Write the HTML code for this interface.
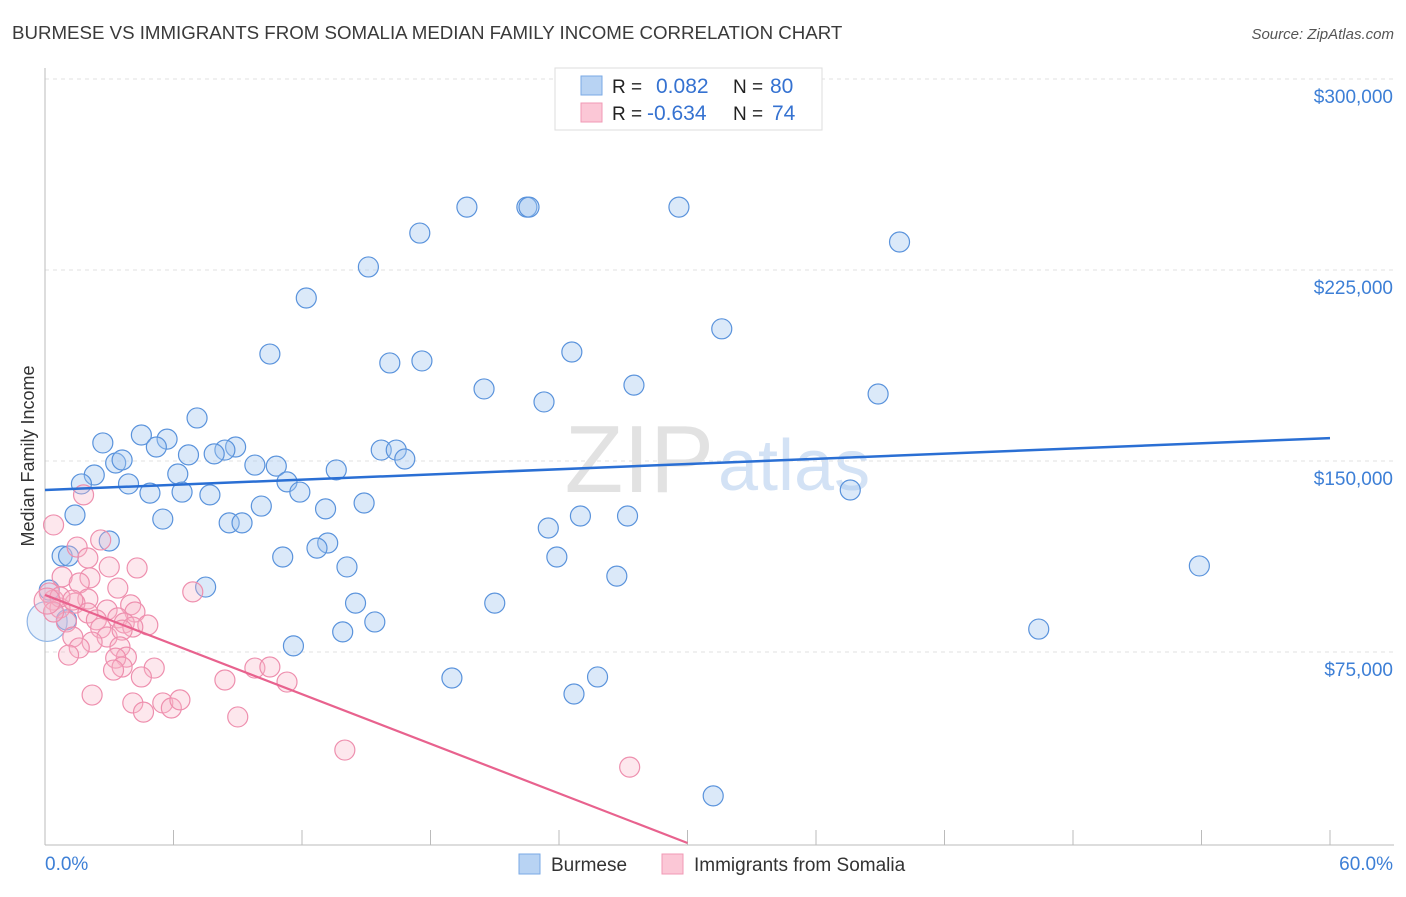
<!DOCTYPE html>
<html><head><meta charset="utf-8"><style>
body{margin:0;background:#fff;font-family:"Liberation Sans",sans-serif}
svg text{font-family:"Liberation Sans",sans-serif}
</style></head><body>
<svg id="chart" width="1406" height="892">
<text x="12" y="39" font-size="18.7" fill="#3a3a3a">BURMESE VS IMMIGRANTS FROM SOMALIA MEDIAN FAMILY INCOME CORRELATION CHART</text>
<text x="1394" y="39" font-size="15" fill="#555" font-style="italic" text-anchor="end">Source: ZipAtlas.com</text>
<text x="34" y="456" font-size="18" fill="#333" text-anchor="middle" transform="rotate(-90 34 456)">Median Family Income</text>
<text x="714" y="492" font-size="96" fill="#e2e2e2" font-family="Liberation Serif" text-anchor="end">ZIP</text>
<text x="718" y="490" font-size="72" fill="#d3e2f5">atlas</text>
<g id="grid"></g><g id="axes"></g><g id="pts"></g><g id="lines"></g>
<g>
<rect x="555" y="68" width="267" height="62" fill="#fff" stroke="#ddd"/>
<rect x="581" y="76" width="21" height="19" fill="#b8d3f3" stroke="#7aaae6"/>
<rect x="581" y="103" width="21" height="19" fill="#fbc7d6" stroke="#f09ab5"/>
<text x="612" y="93" font-size="19" fill="#222">R =</text><text x="656" y="93" font-size="21" fill="#3572d1">0.082</text>
<text x="733" y="93" font-size="19" fill="#222">N =</text><text x="770" y="93" font-size="21" fill="#3572d1">80</text>
<text x="612" y="120" font-size="19" fill="#222">R =</text><text x="647" y="120" font-size="21" fill="#3572d1">-0.634</text>
<text x="733" y="120" font-size="19" fill="#222">N =</text><text x="772" y="120" font-size="21" fill="#3572d1">74</text>
</g>
<g>
<rect x="519" y="854" width="21" height="20" fill="#b8d3f3" stroke="#7aaae6"/>
<text x="551" y="871" font-size="19" fill="#333">Burmese</text>
<rect x="662" y="854" width="21" height="20" fill="#fbc7d6" stroke="#f09ab5"/>
<text x="694" y="871" font-size="19" fill="#333">Immigrants from Somalia</text>
</g>
</svg>
<script>
const yTicks=[75000,150000,225000,300000];
const yTickLabels=["$75,000","$150,000","$225,000","$300,000"];
const xTickLabels=["0.0%","60.0%"];
const blueX=[19.7,22.5,22.6,29.6,39.9,17.5,15.1,12.2,31.6,10.5,24.6,16.1,17.6,20.5,27.5,38.9,23.3,7.1,4.5,5.7,2.7,5.2,8.9,8.4,6.7,7.9,15.7,16.4,16.8,3.3,3.6,9.8,10.8,13.6,6.2,2.3,1.7,3.9,11.3,4.9,6.4,7.7,11.9,37.6,14.9,10.1,1.4,5.5,8.6,9.2,13.1,25.0,27.2,23.5,3.0,13.2,12.7,0.8,1.1,11.1,23.9,14.1,53.9,26.7,7.5,0.2,14.5,21.0,15.4,46.4,13.9,11.6,19.0,25.8,24.7,31.2,1.0,0.1];
const blueY=[249.7,249.7,249.7,249.7,236.0,239.5,226.2,214.0,201.9,192.0,192.8,188.5,189.3,178.3,179.8,176.3,173.2,166.9,160.2,158.6,157.1,155.5,155.5,154.3,152.4,152.8,154.3,154.3,150.8,149.2,150.4,148.4,148.0,146.5,144.9,144.5,141.0,141.0,141.8,137.4,137.8,136.7,137.8,138.6,133.5,132.3,128.8,127.2,125.7,125.7,131.2,128.4,128.4,123.7,118.6,117.8,115.8,112.7,112.7,112.3,112.3,108.4,108.8,104.8,100.5,99.3,94.2,94.2,86.8,84.0,82.9,77.4,64.8,65.2,58.5,18.5,87.6,87.0];
const pinkX=[0.4,1.8,1.5,2.6,2.0,3.0,4.3,0.8,2.1,1.6,3.4,6.9,2.0,0.4,0.2,1.4,4.0,0.7,2.9,4.2,2.0,3.4,2.4,4.8,3.7,1.0,2.6,4.1,2.9,1.3,3.6,2.2,1.6,3.5,1.1,3.8,3.3,3.6,3.2,5.1,4.5,2.2,4.1,4.6,5.5,5.9,6.3,9.0,8.4,9.8,10.5,11.3,0.7,1.3,14.0,27.3,0.4,0.1];
const pinkY=[124.9,136.7,116.2,119.0,111.9,108.4,108.0,104.5,104.1,102.1,100.1,98.6,95.8,95.4,98.2,94.2,93.5,92.3,91.5,90.7,90.3,88.4,87.6,85.6,86.4,86.8,84.4,84.8,80.9,80.9,83.6,78.9,76.6,77.0,73.8,73.0,72.6,69.1,67.9,68.7,65.2,58.1,55.0,51.4,55.0,53.0,56.2,49.5,64.0,68.7,69.1,63.2,96.6,95.4,36.5,29.8,90.7,95.0];
const blueTrend=[138.6,159.0];
const pinkTrend=[97.4,0,30.0];
const NS="http://www.w3.org/2000/svg";
const X=v=>45+v/60*1285;
const Y=v=>843-v/75000*191;
function mk(tag,attrs,parent){const e=document.createElementNS(NS,tag);for(const k in attrs)e.setAttribute(k,attrs[k]);document.getElementById(parent).appendChild(e);return e;}
yTicks.forEach((t,i)=>{
 const g=mk('line',{x1:45,x2:1394,y1:Y(t),y2:Y(t),stroke:'#e2e2e2','stroke-dasharray':'4,4'},'grid');
 
 
 const tx=mk('text',{x:1393,y:Y(t)+24,'font-size':19,fill:'#3d7fd6','text-anchor':'end'},'axes');
 tx.textContent=yTickLabels[i];
 
 
});
const ax=mk('line',{x1:45,x2:1394,y1:845,y2:845,stroke:'#bbb'},'axes');


const ay=mk('line',{x1:45,x2:45,y1:68,y2:845,stroke:'#bbb'},'axes');


for(let i=0;i<=10;i++){const tk=mk('line',{x1:X(i*6),x2:X(i*6),y1:830,y2:845,stroke:'#bbb'},'axes');
 
 }
const xl0=mk('text',{x:45,y:870,'font-size':19,fill:'#3d7fd6'},'axes');xl0.textContent=xTickLabels[0];


const xl1=mk('text',{x:1393,y:870,'font-size':19,fill:'#3d7fd6','text-anchor':'end'},'axes');xl1.textContent=xTickLabels[1];


blueX.forEach((x,i)=>{const big=i==blueX.length-1;const c=mk('circle',{cx:X(x),cy:Y(blueY[i]*1000),r:big?20:10,fill:big?'rgba(160,196,240,0.25)':'rgba(160,196,240,0.38)',stroke:big?'#8fb5e6':'#5a93dc','stroke-width':1.2},'pts');
 
 });
pinkX.forEach((x,i)=>{const c=mk('circle',{cx:X(x),cy:Y(pinkY[i]*1000),r:i==pinkX.length-1?13:10,fill:'rgba(248,180,200,0.32)',stroke:'#ee8fae','stroke-width':1.2},'pts');
 
 });
const bl=mk('line',{x1:X(0),y1:Y(blueTrend[0]*1000),x2:X(60),y2:Y(blueTrend[1]*1000),stroke:'#2a6fd4','stroke-width':2.5},'lines');


const pl=mk('line',{x1:X(0),y1:Y(pinkTrend[0]*1000),x2:X(pinkTrend[2]),y2:Y(pinkTrend[1]*1000),stroke:'#e8628e','stroke-width':2.2},'lines');


</script>
</body></html>
